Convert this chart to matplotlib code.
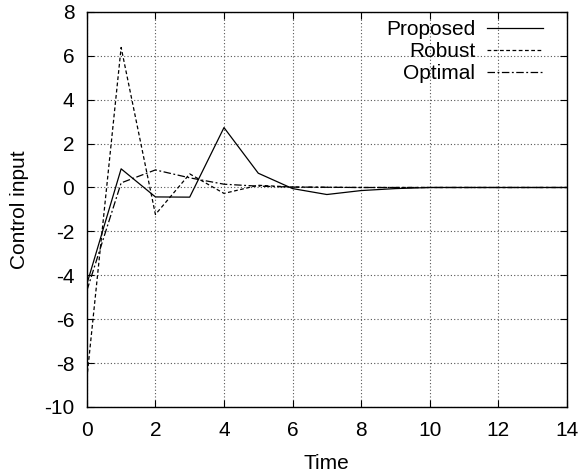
import numpy as np
import matplotlib
matplotlib.use("Agg")
import matplotlib.pyplot as plt

plt.rcParams['font.family'] = ['Liberation Sans', 'DejaVu Sans']
plt.rcParams['axes.unicode_minus'] = False

time = np.arange(0, 15)
proposed = [-4.4, 0.85, -0.43, -0.44, 2.73, 0.65, -0.05, -0.32, -0.14, -0.05, 0, 0, 0, 0, 0]
robust = [-8.7, 6.38, -1.23, 0.62, -0.27, 0.1, 0.02, 0.01, 0, 0, 0, 0, 0, 0, 0]
optimal = [-4.7, 0.21, 0.8, 0.44, 0.15, 0.06, 0.02, 0.01, 0, 0, 0, 0, 0, 0, 0]

fig = plt.figure(figsize=(5.79, 4.76), dpi=100)
ax = fig.add_axes([0.150, 0.145, 0.829, 0.830])

ax.plot(time, proposed, color='black', lw=0.9, ls='-', label='Proposed')
ax.plot(time, robust, color='black', lw=0.9, ls=(0, (3, 2)), label='Robust')
ax.plot(time, optimal, color='black', lw=0.9, ls=(0, (6, 2, 1.5, 2)), label='Optimal')

ax.set_xlim(0, 14)
ax.set_ylim(-10, 8)
ax.set_xticks(np.arange(0, 15, 2))
ax.set_yticks(np.arange(-10, 9, 2))
ax.grid(True, linestyle=(0, (1, 2)), color='#555555', lw=0.8)

ax.tick_params(direction='in', top=True, right=True, labelsize=15, length=5, width=0.8)
ax.tick_params(axis='x', pad=10)
ax.tick_params(axis='y', pad=9)
for s in ax.spines.values():
    s.set_linewidth(1.0)

ax.set_xlabel("Time", fontsize=15, labelpad=10)
ax.set_ylabel("Control input", fontsize=15, labelpad=11)

leg = ax.legend(loc='upper right', bbox_to_anchor=(0.95, 0.98), frameon=False,
                markerfirst=False, fontsize=15, handlelength=2.7, labelspacing=0.15,
                borderaxespad=0, borderpad=0, handletextpad=0.55)

fig.savefig("out.png", dpi=100)
